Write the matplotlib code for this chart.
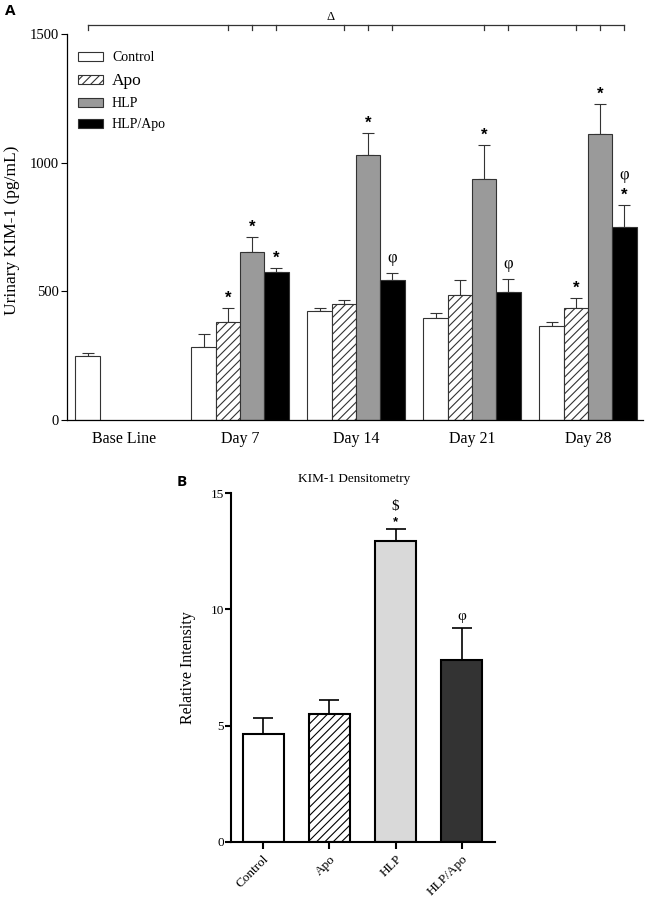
import numpy as np
import matplotlib
matplotlib.use('Agg')
import matplotlib.pyplot as plt

plt.rcParams['font.family'] = ['Liberation Serif', 'DejaVu Serif']
plt.rcParams['hatch.linewidth'] = 0.8

# panel A - urinary KIM-1 (pg/mL), mean and upper SEM
time_points = ['Base Line', 'Day 7', 'Day 14', 'Day 21', 'Day 28']
groups = ['Control', 'Apo', 'HLP', 'HLP/Apo']
control = [249, 284, 424, 396, 365]
control_err = [11, 50, 11, 20, 16]
apo = [np.nan, 381, 451, 486, 435]
apo_err = [np.nan, 54, 15, 58, 39]
hlp = [np.nan, 653, 1030, 937, 1112]
hlp_err = [np.nan, 58, 85, 132, 116]
hlp_apo = [np.nan, 575, 544, 497, 750]
hlp_apo_err = [np.nan, 16, 27, 51, 86]

# significance marks (time index, group index, symbol)
a_marks = [(1, 1, '*'), (1, 2, '*'), (1, 3, '*'), (2, 2, '*'), (2, 3, 'φ'),
           (3, 2, '*'), (3, 3, 'φ'), (4, 1, '*'), (4, 2, '*'), (4, 3, '*'), (4, 3, 'φ')]
# bars covered by the delta bracket (vs base line)
delta_bars = [(0, 0), (1, 1), (1, 2), (1, 3), (2, 1), (2, 2), (2, 3),
              (3, 2), (3, 3), (4, 1), (4, 2), (4, 3)]

# panel B - KIM-1 densitometry
b_groups = ['Control', 'Apo', 'HLP', 'HLP/Apo']
b_vals = [4.64, 5.50, 12.94, 7.83]
b_err = [0.70, 0.59, 0.50, 1.36]
b_marks = [(2, '*'), (2, '$'), (3, 'φ')]

fig = plt.figure(figsize=(6.48, 8.99), dpi=100)

# ---------------- panel A ----------------
axA = fig.add_axes([67/648, 1-420/899, 576/648, 386/899])
w = 0.2095
series = [control, apo, hlp, hlp_apo]
series_err = [control_err, apo_err, hlp_err, hlp_apo_err]
colorsA = ['white', 'white', '#9a9a9a', 'black']
hatches = ['', '////', '', '']
idx = np.arange(len(time_points))

def bar_x(i, j):
    return i + (j - 1.5) * w

handles = []
for j in range(4):
    x = idx + (j - 1.5) * w
    vals = np.array(series[j], dtype=float)
    errs = np.array(series_err[j], dtype=float)
    ok = ~np.isnan(vals)
    b = axA.bar(x[ok], vals[ok], w, color=colorsA[j], edgecolor='#333333',
                linewidth=0.8, hatch=hatches[j], label=groups[j], zorder=2)
    axA.errorbar(x[ok], vals[ok], yerr=[np.zeros(ok.sum()), errs[ok]], fmt='none',
                 ecolor='#333333', elinewidth=0.8, capsize=4.3, capthick=0.8, zorder=1)
    handles.append(b)

# star / phi marks
stack = {}
for i, j, s in a_marks:
    top = series[j][i] + series_err[j][i]
    lvl = stack.get((i, j), 0)
    stack[(i, j)] = lvl + 1
    if s == '*':
        axA.annotate(s, (bar_x(i, j), top), xytext=(0, 1.5 + 11*lvl), textcoords='offset points',
                     ha='center', va='bottom', fontsize=12, fontweight='bold',
                     family='Liberation Sans')
    else:
        axA.annotate(s, (bar_x(i, j), top), xytext=(0, 5 + 11*lvl), textcoords='offset points',
                     ha='center', va='bottom', fontsize=12)

# delta bracket above the plot
bx = [bar_x(i, j) for i, j in delta_bars]
yb = 1535
axA.plot([min(bx), max(bx)], [yb, yb], color='#333333', lw=0.9, clip_on=False)
for xx in bx:
    axA.plot([xx, xx], [yb, yb - 18], color='#333333', lw=0.9, clip_on=False)
axA.text((331 - 124) / 116, yb + 8, 'Δ', ha='center', va='bottom', fontsize=9)

axA.set_xlim(-0.491, 4.474)
axA.set_ylim(0, 1500)
axA.set_yticks([0, 500, 1000, 1500])
axA.set_xticks(idx)
axA.set_xticklabels(time_points, fontsize=11.5)
axA.tick_params(axis='x', length=0, pad=8)
axA.tick_params(axis='y', labelsize=10.5, length=4, width=0.8, pad=2)
for sp in ['top', 'right']:
    axA.spines[sp].set_visible(False)
for sp in ['left', 'bottom']:
    axA.spines[sp].set_linewidth(0.9)

leg = axA.legend(handles=handles, loc='upper left', bbox_to_anchor=(0.019, 0.955),
                 frameon=False, fontsize=10, borderpad=0, borderaxespad=0,
                 handlelength=1.8, handleheight=0.6, handletextpad=0.65,
                 labelspacing=0.6)
leg.get_texts()[1].set_fontsize(12.5)

fig.text(12/648, 1-230/899, 'Urinary KIM-1 (pg/mL)', rotation=90,
         ha='center', va='center', fontsize=12.5)
fig.text(5/648, 1-11/899, 'A', ha='left', va='center', fontsize=11,
         fontweight='bold', family='Open Sans')

# ---------------- panel B ----------------
axB = fig.add_axes([231/648, 1-842/899, 264/648, 349/899])
xb = np.arange(len(b_groups))
colorsB = ['white', 'white', '#d9d9d9', '#333333']
hatchesB = ['', '////', '', '']
for k in range(len(b_groups)):
    axB.bar(xb[k], b_vals[k], 0.62, color=colorsB[k], edgecolor='black',
            linewidth=1.5, hatch=hatchesB[k], zorder=2)
axB.errorbar(xb, b_vals, yerr=[np.zeros(len(b_vals)), b_err], fmt='none',
             ecolor='black', elinewidth=1.2, capsize=7, capthick=1.2, zorder=1)

stackB = {}
for k, s in b_marks:
    top = b_vals[k] + b_err[k]
    lvl = stackB.get(k, 0)
    stackB[k] = lvl + 1
    if s == '*':
        axB.annotate(s, (k, top), xytext=(0, 1), textcoords='offset points',
                     ha='center', va='bottom', fontsize=9.5, fontweight='bold',
                     family='Liberation Sans')
    else:
        axB.annotate(s, (k, top), xytext=(0, 4 + 8*lvl), textcoords='offset points',
                     ha='center', va='bottom', fontsize=11, parse_math=False)

axB.set_xlim(-0.485, 3.5)
axB.set_ylim(0, 15)
axB.set_yticks([0, 5, 10, 15])
axB.set_xticks(xb)
axB.set_xticklabels(b_groups, rotation=45, ha='right', rotation_mode='anchor', fontsize=9.5)
axB.tick_params(axis='x', length=5, width=1.5, pad=3)
axB.tick_params(axis='y', labelsize=9.5, length=4, width=1.5, pad=1)
for sp in ['top', 'right']:
    axB.spines[sp].set_visible(False)
for sp in ['left', 'bottom']:
    axB.spines[sp].set_linewidth(1.5)

fig.text(354/648, 1-479/899, 'KIM-1 Densitometry', ha='center', va='center', fontsize=9.5)
fig.text(188/648, 1-668/899, 'Relative Intensity', rotation=90,
         ha='center', va='center', fontsize=11.5)
fig.text(177/648, 1-482/899, 'B', ha='left', va='center', fontsize=11,
         fontweight='bold', family='Open Sans')

fig.savefig('out.png', dpi=100)
